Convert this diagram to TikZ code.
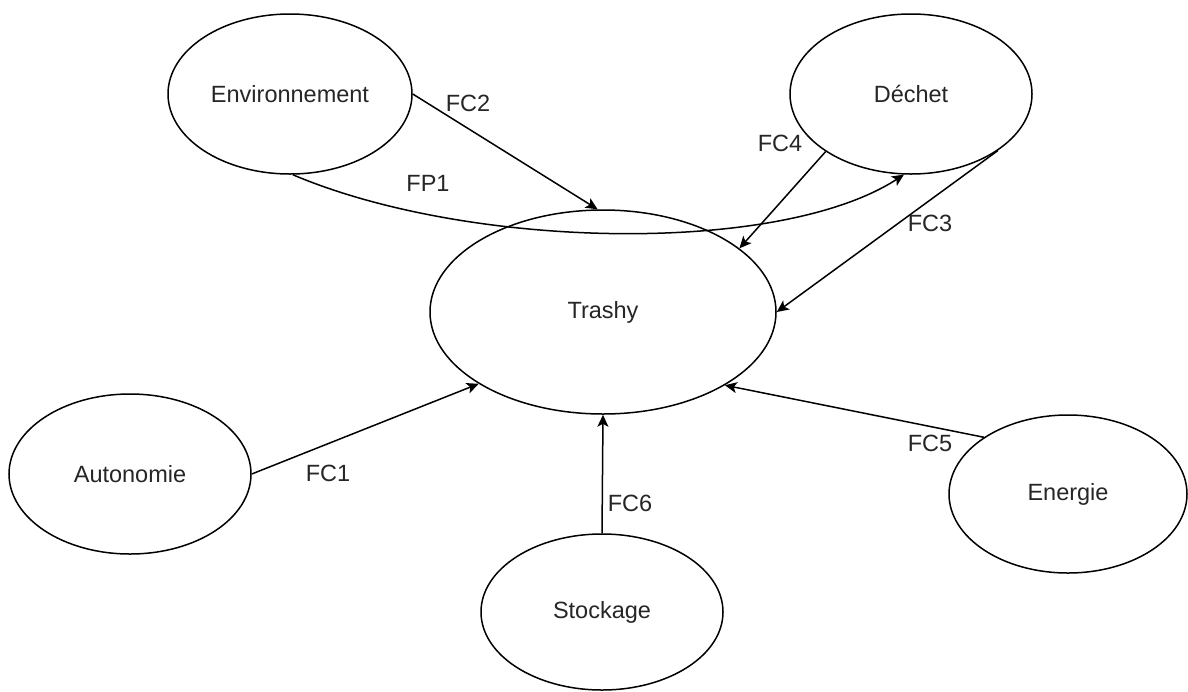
\documentclass[tikz,border=0pt]{standalone}
\usepackage{fontspec}
\setmainfont{Liberation Sans}
\usetikzlibrary{shapes.geometric,arrows.meta}
\begin{document}
\begin{tikzpicture}[x=0.5pt,y=-0.5pt,
  ell/.style={ellipse,draw,line width=0.75pt,inner sep=0pt,text=black!85,font=\fontsize{11.75pt}{14pt}\selectfont},
  conn/.style={line width=0.75pt,-{Stealth[length=6pt,width=5.5pt,inset=1.5pt]}},
  lbl/.style={font=\fontsize{11.75pt}{14pt}\selectfont,text=black!85,inner sep=0pt}]
\useasboundingbox[fill=white] (0,0) rectangle (1188,691);
\node[ell,minimum width=122pt,minimum height=80pt] (env) at (290,94) {Environnement};
\node[ell,minimum width=121pt,minimum height=80pt] (dech) at (911,94) {Déchet};
\node[ell,minimum width=173pt,minimum height=102pt] (trashy) at (603,312) {Trashy};
\node[ell,minimum width=121pt,minimum height=80pt] (auto) at (130,474) {Autonomie};
\node[ell,minimum width=121pt,minimum height=78pt] (stock) at (602,612) {Stockage};
\node[ell,minimum width=119pt,minimum height=79pt] (ener) at (1068,494) {Energie};
% connectors
\draw[conn] (env.east) -- (trashy.93.5);
\draw[conn] (env.-88) .. controls (470,250) and (780,255) .. (dech.-95);
\draw[conn] (dech.214) -- (trashy.25);
\draw[conn] (dech.-33) -- (trashy.east);
\draw[conn] (auto.east) -- (trashy.210.8);
\draw[conn] (stock.north) -- (trashy.south);
\draw[conn] (ener.146) -- (trashy.-31);
% labels
\node[lbl] (l2) at (468,103) {FC2};
\node[lbl] (lp1) at (428,183) {FP1};
\node[lbl] (l4) at (780,143) {FC4};
\node[lbl] (l3) at (930,223) {FC3};
\node[lbl] (l1) at (328,473) {FC1};
\node[lbl] (l6) at (630,503) {FC6};
\node[lbl] (l5) at (930,443) {FC5};
\end{tikzpicture}
\end{document}
